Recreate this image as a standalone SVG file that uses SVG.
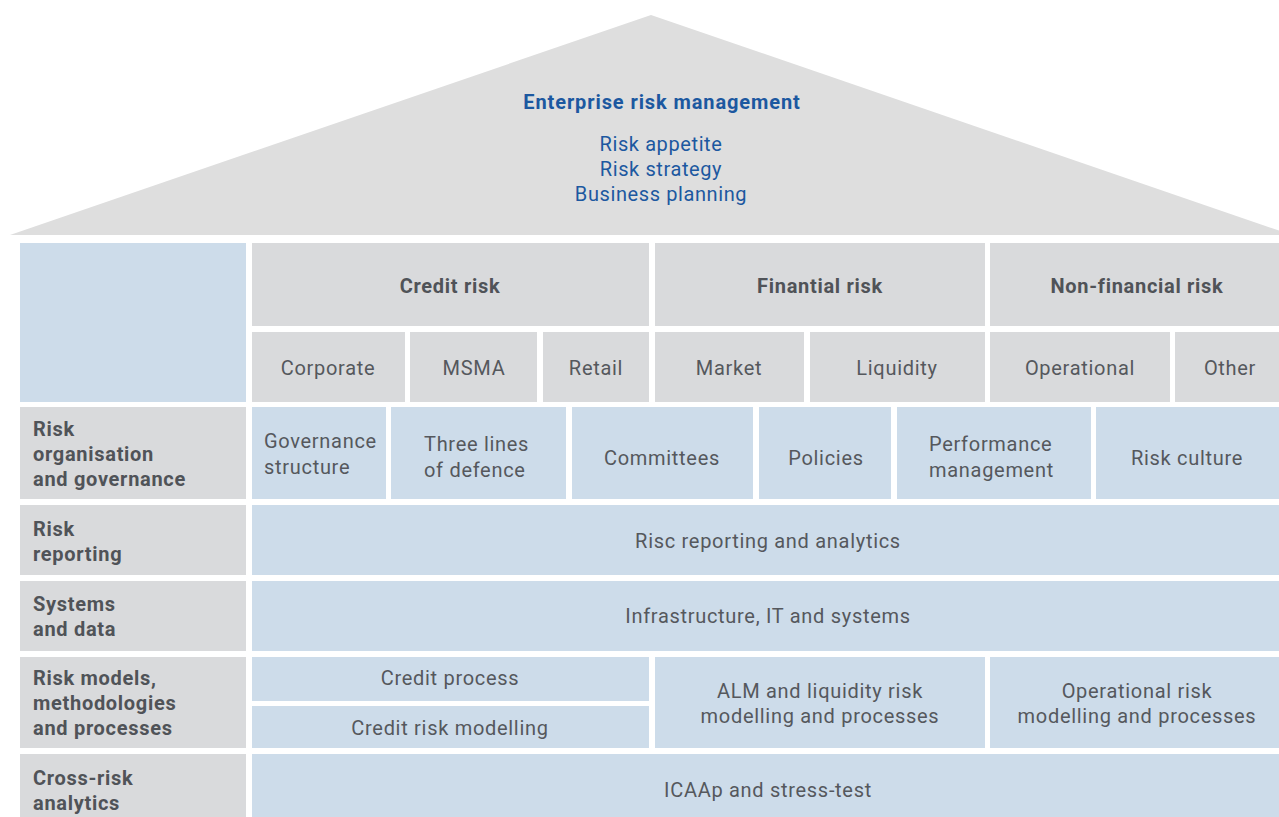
<svg xmlns="http://www.w3.org/2000/svg" width="1279" height="817" viewBox="0 0 1279 817">
  <style>
    .roof { fill: #dedede; }
    .blue { fill: #cddcea; }
    .grey { fill: #d9dadc; }
    text { font-family: Roboto, "Liberation Sans", sans-serif; letter-spacing: 0.7px; }
    .t { font-size: 20px; fill: #55585d; text-anchor: middle; }
    .tl { font-size: 20px; fill: #55585d; }
    .h { font-size: 20px; font-weight: bold; fill: #505358; text-anchor: middle; }
    .lab { font-size: 20px; font-weight: bold; fill: #505358; }
    .ttl { font-size: 20px; font-weight: bold; fill: #1c58a0; text-anchor: middle; letter-spacing: 0.9px; }
    .sub { font-size: 20px; fill: #1c58a0; text-anchor: middle; letter-spacing: 0.6px; }
  </style>

  <rect width="1279" height="817" fill="#ffffff"/>

  <!-- roof -->
  <g id="roof">
    <polygon class="roof" points="10,235 651,15 1292,235"/>
    <text class="ttl" x="662" y="109">Enterprise risk management</text>
    <text class="sub" x="661" y="151">Risk appetite</text>
    <text class="sub" x="661" y="176">Risk strategy</text>
    <text class="sub" x="661" y="201">Business planning</text>
  </g>

  <!-- header -->
  <g id="corner"><rect class="blue" x="20" y="243" width="226" height="159"/></g>
  <g id="credit-risk">
    <rect class="grey" x="252" y="243" width="397" height="83"/>
    <text class="h" x="450" y="293">Credit risk</text>
  </g>
  <g id="financial-risk">
    <rect class="grey" x="655" y="243" width="330" height="83"/>
    <text class="h" x="820" y="293">Finantial risk</text>
  </g>
  <g id="non-financial-risk">
    <rect class="grey" x="990" y="243" width="295" height="83"/>
    <text class="h" x="1137" y="293">Non-financial risk</text>
  </g>

  <g id="corporate"><rect class="grey" x="252" y="332" width="153" height="70"/><text class="t" x="328" y="375">Corporate</text></g>
  <g id="msma"><rect class="grey" x="410" y="332" width="127" height="70"/><text class="t" x="474" y="375">MSMA</text></g>
  <g id="retail"><rect class="grey" x="543" y="332" width="106" height="70"/><text class="t" x="596" y="375">Retail</text></g>
  <g id="market"><rect class="grey" x="655" y="332" width="149" height="70"/><text class="t" x="729" y="375">Market</text></g>
  <g id="liquidity"><rect class="grey" x="810" y="332" width="175" height="70"/><text class="t" x="897" y="375">Liquidity</text></g>
  <g id="operational"><rect class="grey" x="990" y="332" width="180" height="70"/><text class="t" x="1080" y="375">Operational</text></g>
  <g id="other"><rect class="grey" x="1175" y="332" width="110" height="70"/><text class="t" x="1230" y="375">Other</text></g>

  <!-- row: risk organisation and governance -->
  <g id="row-governance">
    <rect class="grey" x="20" y="407" width="226" height="92"/>
    <text class="lab" x="33" y="436">Risk</text>
    <text class="lab" x="33" y="461">organisation</text>
    <text class="lab" x="33" y="486">and governance</text>
  </g>
  <g id="governance-structure">
    <rect class="blue" x="252" y="407" width="134" height="92"/>
    <text class="tl" x="264" y="448">Governance</text>
    <text class="tl" x="264" y="474">structure</text>
  </g>
  <g id="three-lines">
    <rect class="blue" x="391" y="407" width="175" height="92"/>
    <text class="tl" x="424" y="451">Three lines</text>
    <text class="tl" x="424" y="477">of defence</text>
  </g>
  <g id="committees"><rect class="blue" x="572" y="407" width="181" height="92"/><text class="t" x="662" y="465">Committees</text></g>
  <g id="policies"><rect class="blue" x="759" y="407" width="132" height="92"/><text class="t" x="826" y="465">Policies</text></g>
  <g id="performance">
    <rect class="blue" x="897" y="407" width="194" height="92"/>
    <text class="tl" x="929" y="451">Performance</text>
    <text class="tl" x="929" y="477">management</text>
  </g>
  <g id="risk-culture"><rect class="blue" x="1096" y="407" width="189" height="92"/><text class="t" x="1187" y="465">Risk culture</text></g>

  <!-- row: risk reporting -->
  <g id="row-reporting">
    <rect class="grey" x="20" y="505" width="226" height="70"/>
    <text class="lab" x="33" y="536">Risk</text>
    <text class="lab" x="33" y="561">reporting</text>
  </g>
  <g id="reporting"><rect class="blue" x="252" y="505" width="1033" height="70"/><text class="t" x="768" y="548">Risc reporting and analytics</text></g>

  <!-- row: systems and data -->
  <g id="row-systems">
    <rect class="grey" x="20" y="581" width="226" height="70"/>
    <text class="lab" x="33" y="611">Systems</text>
    <text class="lab" x="33" y="636">and data</text>
  </g>
  <g id="infrastructure"><rect class="blue" x="252" y="581" width="1033" height="70"/><text class="t" x="768" y="623">Infrastructure, IT and systems</text></g>

  <!-- row: risk models -->
  <g id="row-models">
    <rect class="grey" x="20" y="657" width="226" height="91"/>
    <text class="lab" x="33" y="685">Risk models,</text>
    <text class="lab" x="33" y="710">methodologies</text>
    <text class="lab" x="33" y="735">and processes</text>
  </g>
  <g id="credit-process"><rect class="blue" x="252" y="657" width="397" height="44"/><text class="t" x="450" y="685">Credit process</text></g>
  <g id="credit-modelling"><rect class="blue" x="252" y="706" width="397" height="42"/><text class="t" x="450" y="735">Credit risk modelling</text></g>
  <g id="alm">
    <rect class="blue" x="655" y="657" width="330" height="91"/>
    <text class="t" x="820" y="698">ALM and liquidity risk</text>
    <text class="t" x="820" y="723">modelling and processes</text>
  </g>
  <g id="operational-modelling">
    <rect class="blue" x="990" y="657" width="295" height="91"/>
    <text class="t" x="1137" y="698">Operational risk</text>
    <text class="t" x="1137" y="723">modelling and processes</text>
  </g>

  <!-- row: cross-risk analytics -->
  <g id="row-cross">
    <rect class="grey" x="20" y="754" width="226" height="70"/>
    <text class="lab" x="33" y="785">Cross-risk</text>
    <text class="lab" x="33" y="810">analytics</text>
  </g>
  <g id="icaap"><rect class="blue" x="252" y="754" width="1033" height="70"/><text class="t" x="768" y="797">ICAAp and stress-test</text></g>

  <g id="connectors"/>
</svg>
